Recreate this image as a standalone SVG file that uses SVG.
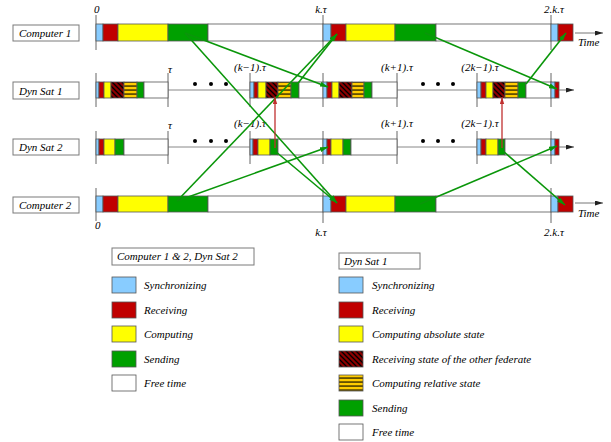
<svg xmlns="http://www.w3.org/2000/svg" width="611" height="442" viewBox="0 0 611 442">
<style>
text{font-family:"Liberation Serif","Times New Roman",serif;font-style:italic;font-size:11px;fill:#000}
.box{fill:#fff;stroke:#7a7a7a;stroke-width:1}
.s{stroke:#555;stroke-width:0.8}
.lb{fill:#88ccff}.rd{fill:#c00000}.ye{fill:#ffff00}.gr{fill:#00a000}.wh{fill:#fff}
.ha{fill:url(#hatch)}.st{fill:url(#stripe)}
.outl{fill:none;stroke:#808080;stroke-width:1}
.tick{stroke:#666;stroke-width:1}
.hl{stroke:#888;stroke-width:1}
.ga{stroke:#0a960a;stroke-width:1.6;fill:none;marker-end:url(#ag)}
.ra{stroke:#c03030;stroke-width:1.3;fill:none;marker-end:url(#ar)}
.ta{stroke:#777;stroke-width:1;marker-end:url(#ak)}
</style>
<defs>
<pattern id="hatch" patternUnits="userSpaceOnUse" width="5" height="5">
<rect width="5" height="5" fill="#8b0000"/>
<path d="M-1,-1 L6,6 M-1,4 L1,6 M4,-1 L6,1" stroke="#000" stroke-width="1.3"/>
</pattern>
<pattern id="stripe" patternUnits="userSpaceOnUse" width="4" height="4">
<rect width="4" height="4" fill="#ffcc00"/>
<rect y="1.5" width="4" height="1.1" fill="#000"/>
</pattern>
<marker id="ag" viewBox="0 0 8 5" refX="8" refY="2.5" markerWidth="8" markerHeight="5" markerUnits="userSpaceOnUse" orient="auto"><path d="M0,0 L8,2.5 L0,5 z" fill="#0a960a"/></marker>
<marker id="ar" viewBox="0 0 8 5" refX="8" refY="2.5" markerWidth="7" markerHeight="5" markerUnits="userSpaceOnUse" orient="auto"><path d="M0,0 L8,2.5 L0,5 z" fill="#c03030"/></marker>
<marker id="ak" viewBox="0 0 8 5" refX="8" refY="2.5" markerWidth="8" markerHeight="5" markerUnits="userSpaceOnUse" orient="auto"><path d="M0,0 L8,2.5 L0,5 z" fill="#222"/></marker>
</defs>

<!-- Computer 1 -->
<g id="computer1">
<rect class="box" x="13" y="25" width="66" height="16"/>
<text x="19" y="37">Computer 1</text>
<line class="tick" x1="96" y1="15" x2="96" y2="50"/>
<line class="tick" x1="323" y1="15" x2="323" y2="50"/>
<line class="tick" x1="551" y1="15" x2="551" y2="50"/>
<text x="94" y="13">0</text>
<text x="321" y="13" text-anchor="middle">k.τ</text>
<text x="554" y="13" text-anchor="middle">2.k.τ</text>
<g class="s">
<rect class="lb" x="96" y="24" width="7" height="17"/>
<rect class="rd" x="103" y="24" width="15" height="17"/>
<rect class="ye" x="118" y="24" width="50" height="17"/>
<rect class="gr" x="168" y="24" width="40" height="17"/>
<rect class="wh" x="208" y="24" width="115" height="17"/>
<rect class="lb" x="323" y="24" width="8" height="17"/>
<rect class="rd" x="331" y="24" width="15" height="17"/>
<rect class="ye" x="346" y="24" width="49" height="17"/>
<rect class="gr" x="395" y="24" width="41" height="17"/>
<rect class="wh" x="436" y="24" width="115" height="17"/>
<rect class="lb" x="551" y="24" width="7" height="17"/>
<rect class="rd" x="558" y="24" width="15" height="17"/>
</g>
<line class="ta" x1="575" y1="33" x2="603" y2="33"/>
<text x="578" y="46">Time</text>
</g>

<!-- Dyn Sat 1 -->
<g id="dynsat1">
<rect class="box" x="13" y="82" width="66" height="17"/>
<text x="19" y="95">Dyn Sat 1</text>
<g class="tick">
<line x1="96" y1="73" x2="96" y2="107"/>
<line x1="168" y1="73" x2="168" y2="107"/>
<line x1="250" y1="73" x2="250" y2="107"/>
<line x1="323" y1="73" x2="323" y2="107"/>
<line x1="397" y1="73" x2="397" y2="107"/>
<line x1="477" y1="73" x2="477" y2="107"/>
<line x1="551" y1="73" x2="551" y2="107"/>
</g>
<text x="168" y="73">τ</text>
<text x="250" y="71" text-anchor="middle">(k−1).τ</text>
<text x="397" y="71" text-anchor="middle">(k+1).τ</text>
<text x="480" y="71" text-anchor="middle">(2k−1).τ</text>
<line class="hl" x1="168" y1="90" x2="250" y2="90"/>
<line class="hl" x1="397" y1="90" x2="477" y2="90"/>
<circle cx="195" cy="84" r="2"/><circle cx="211" cy="84" r="2"/><circle cx="226" cy="84" r="2"/>
<circle cx="423" cy="84" r="2"/><circle cx="438" cy="84" r="2"/><circle cx="453" cy="84" r="2"/>
<g class="s">
<rect class="lb" x="96" y="82" width="3" height="16"/>
<rect class="rd" x="99" y="82" width="5" height="16"/>
<rect class="ye" x="104" y="82" width="7" height="16"/>
<rect class="ha" x="111" y="82" width="13" height="16"/>
<rect class="st" x="124" y="82" width="13" height="16"/>
<rect class="gr" x="137" y="82" width="7" height="16"/>
<rect class="wh" x="144" y="82" width="24" height="16"/>

<rect class="lb" x="250" y="82" width="4" height="16"/>
<rect class="rd" x="254" y="82" width="4" height="16"/>
<rect class="ye" x="258" y="82" width="8" height="16"/>
<rect class="ha" x="266" y="82" width="12" height="16"/>
<rect class="st" x="278" y="82" width="13" height="16"/>
<rect class="gr" x="291" y="82" width="8" height="16"/>
<rect class="wh" x="299" y="82" width="24" height="16"/>

<rect class="lb" x="323" y="82" width="4" height="16"/>
<rect class="rd" x="327" y="82" width="5" height="16"/>
<rect class="ye" x="332" y="82" width="7" height="16"/>
<rect class="ha" x="339" y="82" width="13" height="16"/>
<rect class="st" x="352" y="82" width="12" height="16"/>
<rect class="gr" x="364" y="82" width="8" height="16"/>
<rect class="wh" x="372" y="82" width="25" height="16"/>

<rect class="lb" x="477" y="82" width="4" height="16"/>
<rect class="rd" x="481" y="82" width="5" height="16"/>
<rect class="ye" x="486" y="82" width="7" height="16"/>
<rect class="ha" x="493" y="82" width="12" height="16"/>
<rect class="st" x="505" y="82" width="13" height="16"/>
<rect class="gr" x="518" y="82" width="8" height="16"/>
<rect class="wh" x="526" y="82" width="25" height="16"/>

<rect class="lb" x="551" y="82" width="4" height="16"/>
<rect class="rd" x="555" y="82" width="4" height="16"/>
</g>
<line class="ta" x1="559" y1="90" x2="574" y2="90"/>
</g>

<!-- Dyn Sat 2 -->
<g id="dynsat2">
<rect class="box" x="13" y="139" width="66" height="16"/>
<text x="19" y="151">Dyn Sat 2</text>
<g class="tick">
<line x1="96" y1="131" x2="96" y2="164"/>
<line x1="168" y1="131" x2="168" y2="164"/>
<line x1="250" y1="131" x2="250" y2="164"/>
<line x1="323" y1="131" x2="323" y2="164"/>
<line x1="397" y1="131" x2="397" y2="164"/>
<line x1="477" y1="131" x2="477" y2="164"/>
<line x1="551" y1="131" x2="551" y2="164"/>
</g>
<text x="168" y="129">τ</text>
<text x="250" y="127" text-anchor="middle">(k−1).τ</text>
<text x="397" y="127" text-anchor="middle">(k+1).τ</text>
<text x="480" y="127" text-anchor="middle">(2k−1).τ</text>
<line class="hl" x1="168" y1="147" x2="250" y2="147"/>
<line class="hl" x1="397" y1="147" x2="477" y2="147"/>
<circle cx="195" cy="141" r="2"/><circle cx="211" cy="141" r="2"/><circle cx="226" cy="141" r="2"/>
<circle cx="423" cy="141" r="2"/><circle cx="438" cy="141" r="2"/><circle cx="453" cy="141" r="2"/>
<g class="s">
<rect class="lb" x="96" y="139" width="3" height="16"/>
<rect class="rd" x="99" y="139" width="5" height="16"/>
<rect class="ye" x="104" y="139" width="11" height="16"/>
<rect class="gr" x="115" y="139" width="9" height="16"/>
<rect class="wh" x="124" y="139" width="44" height="16"/>

<rect class="lb" x="250" y="139" width="3" height="16"/>
<rect class="rd" x="253" y="139" width="5" height="16"/>
<rect class="ye" x="258" y="139" width="12" height="16"/>
<rect class="gr" x="270" y="139" width="8" height="16"/>
<rect class="wh" x="278" y="139" width="45" height="16"/>

<rect class="lb" x="323" y="139" width="4" height="16"/>
<rect class="rd" x="327" y="139" width="4" height="16"/>
<rect class="ye" x="331" y="139" width="12" height="16"/>
<rect class="gr" x="343" y="139" width="8" height="16"/>
<rect class="wh" x="351" y="139" width="46" height="16"/>

<rect class="lb" x="477" y="139" width="4" height="16"/>
<rect class="rd" x="481" y="139" width="5" height="16"/>
<rect class="ye" x="486" y="139" width="12" height="16"/>
<rect class="gr" x="498" y="139" width="7" height="16"/>
<rect class="wh" x="505" y="139" width="46" height="16"/>

<rect class="lb" x="551" y="139" width="4" height="16"/>
<rect class="rd" x="555" y="139" width="4" height="16"/>
</g>
<line class="ta" x1="559" y1="147" x2="574" y2="147"/>
</g>

<!-- Computer 2 -->
<g id="computer2">
<rect class="box" x="13" y="197" width="66" height="16"/>
<text x="19" y="209">Computer 2</text>
<line class="tick" x1="96" y1="188" x2="96" y2="221"/>
<line class="tick" x1="323" y1="188" x2="323" y2="223"/>
<line class="tick" x1="551" y1="188" x2="551" y2="223"/>
<text x="95" y="229">0</text>
<text x="321" y="236" text-anchor="middle">k.τ</text>
<text x="554" y="236" text-anchor="middle">2.k.τ</text>
<g class="s">
<rect class="lb" x="96" y="196" width="7" height="16"/>
<rect class="rd" x="103" y="196" width="15" height="16"/>
<rect class="ye" x="118" y="196" width="50" height="16"/>
<rect class="gr" x="168" y="196" width="40" height="16"/>
<rect class="wh" x="208" y="196" width="115" height="16"/>
<rect class="lb" x="323" y="196" width="8" height="16"/>
<rect class="rd" x="331" y="196" width="15" height="16"/>
<rect class="ye" x="346" y="196" width="49" height="16"/>
<rect class="gr" x="395" y="196" width="41" height="16"/>
<rect class="wh" x="436" y="196" width="115" height="16"/>
<rect class="lb" x="551" y="196" width="7" height="16"/>
<rect class="rd" x="558" y="196" width="15" height="16"/>
</g>
<line class="ta" x1="575" y1="203" x2="603" y2="203"/>
<text x="578" y="217">Time</text>
</g>

<!-- connectors -->
<g id="connectors">
<line class="ga" x1="185" y1="33" x2="328" y2="87"/>
<line class="ga" x1="185" y1="33" x2="337" y2="203"/>
<line class="ga" x1="177" y1="201" x2="328" y2="147"/>
<line class="ga" x1="177" y1="201" x2="337" y2="34"/>
<line class="ga" x1="295" y1="87" x2="337" y2="34"/>
<line class="ga" x1="275" y1="151" x2="337" y2="203"/>
<line class="ga" x1="425" y1="33" x2="557" y2="89"/>
<line class="ga" x1="526" y1="84" x2="566" y2="33"/>
<line class="ga" x1="420" y1="204" x2="557" y2="146"/>
<line class="ga" x1="503" y1="151" x2="565" y2="205"/>
<line class="ra" x1="275" y1="148" x2="275" y2="97"/>
<line class="ra" x1="502" y1="148" x2="502" y2="97"/>
</g>

<!-- legend 1 -->
<g id="legend1">
<rect class="box" x="112" y="248" width="142" height="17"/>
<text x="117" y="260">Computer 1 &amp; 2, Dyn Sat 2</text>
<g class="s">
<rect class="lb" x="112" y="277" width="24" height="16"/>
<rect class="rd" x="112" y="302" width="24" height="16"/>
<rect class="ye" x="112" y="326" width="24" height="16"/>
<rect class="gr" x="112" y="351" width="24" height="16"/>
<rect class="wh" x="112" y="375" width="24" height="16"/>
</g>
<text x="144" y="289">Synchronizing</text>
<text x="144" y="314">Receiving</text>
<text x="144" y="338">Computing</text>
<text x="144" y="363">Sending</text>
<text x="144" y="387">Free time</text>
</g>

<!-- legend 2 -->
<g id="legend2">
<rect class="box" x="339" y="253" width="81" height="16"/>
<text x="344" y="265">Dyn Sat 1</text>
<g class="s">
<rect class="lb" x="339" y="277" width="24" height="16"/>
<rect class="rd" x="339" y="302" width="24" height="16"/>
<rect class="ye" x="339" y="326" width="24" height="16"/>
<rect class="ha" x="339" y="351" width="24" height="16"/>
<rect class="st" x="339" y="375" width="24" height="16"/>
<rect class="gr" x="339" y="400" width="24" height="16"/>
<rect class="wh" x="339" y="424" width="24" height="16"/>
</g>
<text x="372" y="289">Synchronizing</text>
<text x="372" y="314">Receiving</text>
<text x="372" y="338">Computing absolute state</text>
<text x="372" y="363">Receiving state of the other federate</text>
<text x="372" y="387">Computing relative state</text>
<text x="372" y="412">Sending</text>
<text x="372" y="436">Free time</text>
</g>
</svg>
